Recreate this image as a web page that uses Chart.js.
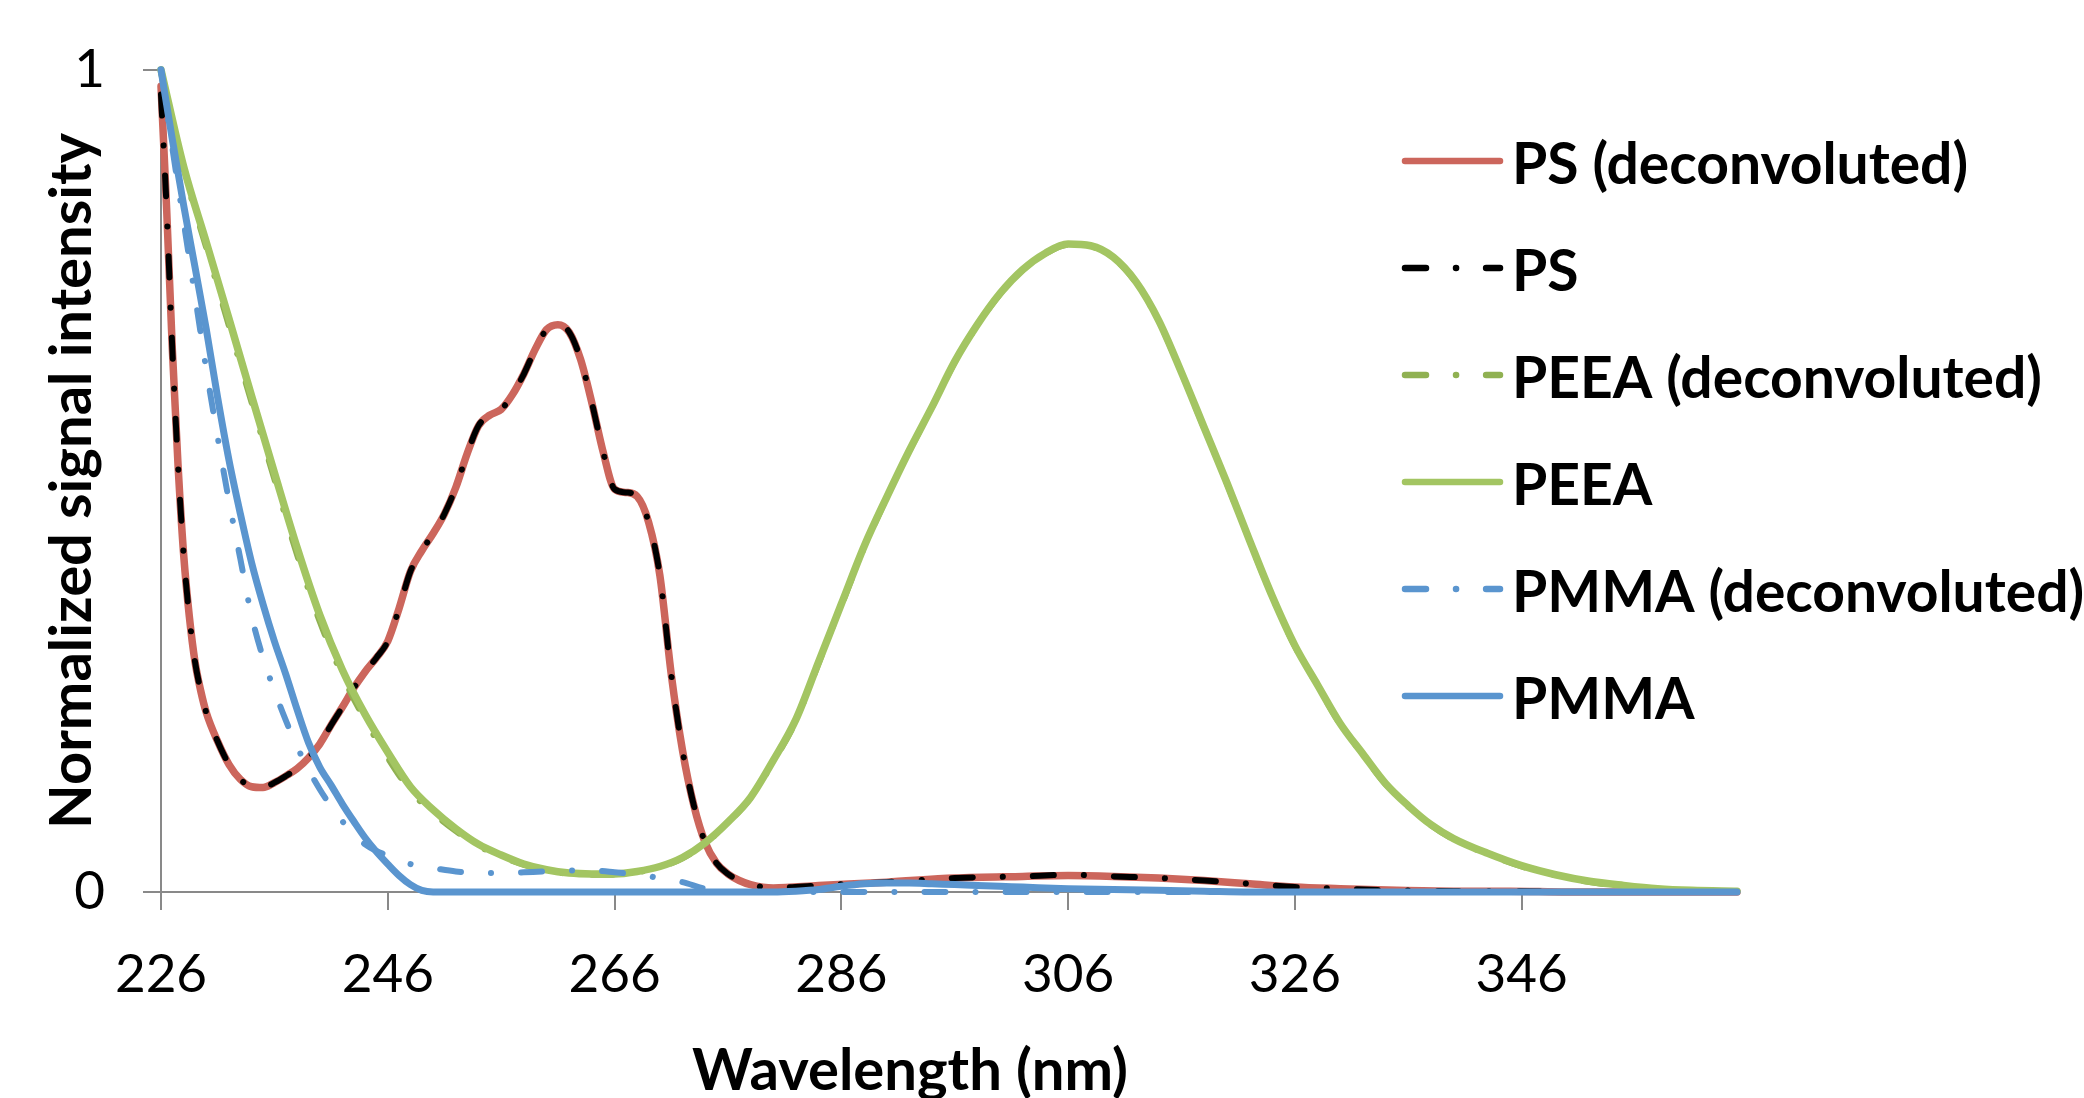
<!DOCTYPE html>
<html>
<head>
<meta charset="utf-8">
<title>Normalized signal intensity</title>
<script src="https://cdn.jsdelivr.net/npm/chart.js@4.4.0/dist/chart.umd.min.js"></script>
<style>
  html, body { margin: 0; padding: 0; background: #ffffff; }
  #wrap { width: 2084px; height: 1098px; position: relative; }
</style>
</head>
<body>
<div id="wrap"><canvas id="ShowChart"></canvas></div>
<script>
// tick labels of the wavelength axis
var xTicks = [226, 246, 266, 286, 306, 326, 346]

// PS spectra (nm / normalized intensity)
var psWl = [226, 226.5, 227, 227.5, 228, 228.5, 229, 229.5, 230,
  231, 232, 233, 234, 235, 236, 237, 238, 239, 240,
  241, 242, 243, 244, 245, 246, 247, 248, 249, 250,
  251, 252, 253, 254, 255, 256, 257, 258, 259, 260,
  261, 262, 263, 264, 265, 266, 267, 268, 269, 270,
  271, 272, 273, 274, 275, 276, 277, 278, 280, 284,
  290, 296, 302, 306, 310, 314, 318, 322, 326, 330,
  335, 340, 345, 350, 357, 365]
var psDeconv = [0.98, 0.83, 0.66, 0.52, 0.41, 0.335, 0.28, 0.245, 0.218,
  0.183, 0.155, 0.137, 0.128, 0.127, 0.133, 0.141, 0.150, 0.163, 0.18,
  0.203, 0.225, 0.248, 0.268, 0.285, 0.305, 0.345, 0.39, 0.415, 0.436,
  0.46, 0.492, 0.533, 0.567, 0.58, 0.587, 0.605, 0.63, 0.66, 0.684,
  0.69, 0.681, 0.648, 0.595, 0.535, 0.49, 0.486, 0.481, 0.45, 0.385,
  0.265, 0.172, 0.105, 0.06, 0.035, 0.022, 0.014, 0.009, 0.005, 0.008,
  0.012, 0.017, 0.019, 0.02, 0.019, 0.017, 0.014, 0.01, 0.006, 0.004,
  0.002, 0.001, 0.001, 0, 0, 0]
var psRaw = [0.97, 0.83, 0.66, 0.52, 0.41, 0.335, 0.28, 0.245, 0.218,
  0.183, 0.155, 0.137, 0.128, 0.127, 0.133, 0.141, 0.150, 0.163, 0.18,
  0.203, 0.225, 0.248, 0.268, 0.285, 0.305, 0.345, 0.39, 0.415, 0.436,
  0.46, 0.492, 0.533, 0.567, 0.58, 0.587, 0.605, 0.63, 0.66, 0.684,
  0.69, 0.681, 0.648, 0.595, 0.535, 0.49, 0.486, 0.481, 0.45, 0.385,
  0.265, 0.172, 0.105, 0.06, 0.035, 0.022, 0.014, 0.009, 0.005, 0.008,
  0.012, 0.017, 0.019, 0.021, 0.019, 0.017, 0.014, 0.01, 0.006, 0.004,
  0.002, 0.001, 0.001, 0, 0, 0]

// PEEA spectra
var peeaWl = [226, 228, 230, 232, 234, 236, 238, 240, 242, 244,
  246, 248, 250, 252, 254, 256, 258, 260, 262, 264,
  266, 268, 270, 272, 274, 276, 278, 280, 282, 284,
  286, 288, 290, 292, 294, 296, 298, 300, 302, 304,
  306, 308, 310, 312, 314, 316, 318, 320, 322, 324,
  326, 328, 330, 332, 334, 336, 338, 340,
  343, 346, 349, 352, 355, 358, 361, 365]
var peeaDeconv = [1.0, 0.878, 0.783, 0.688, 0.595, 0.502, 0.41, 0.329, 0.263, 0.209,
  0.163, 0.123, 0.096, 0.074, 0.056, 0.043, 0.033, 0.026, 0.022, 0.021,
  0.021, 0.024, 0.03, 0.041, 0.059, 0.084, 0.114, 0.158, 0.208, 0.278,
  0.348, 0.418, 0.479, 0.536, 0.589, 0.644, 0.689, 0.727, 0.756, 0.776,
  0.787, 0.785, 0.771, 0.741, 0.694, 0.631, 0.564, 0.497, 0.427, 0.359,
  0.299, 0.251, 0.204, 0.167, 0.131, 0.104, 0.081, 0.064,
  0.046, 0.031, 0.02, 0.012, 0.007, 0.003, 0.001, 0]
var peea = [1.0, 0.882, 0.79, 0.697, 0.603, 0.51, 0.419, 0.337, 0.27, 0.216,
  0.17, 0.128, 0.1, 0.077, 0.058, 0.045, 0.034, 0.027, 0.023, 0.022,
  0.022, 0.025, 0.031, 0.042, 0.06, 0.085, 0.115, 0.16, 0.21, 0.28,
  0.35, 0.42, 0.48, 0.537, 0.59, 0.645, 0.69, 0.728, 0.757, 0.777,
  0.788, 0.786, 0.772, 0.742, 0.695, 0.632, 0.565, 0.498, 0.428, 0.36,
  0.3, 0.252, 0.205, 0.168, 0.132, 0.105, 0.082, 0.065,
  0.047, 0.032, 0.021, 0.013, 0.008, 0.004, 0.002, 0.001]

// PMMA spectra
var pmmaWl = [226, 227, 228, 229, 230, 231, 232, 233, 234, 235,
  236, 237, 238, 239, 240, 241, 242, 243, 244, 245,
  246, 247, 248, 249, 250,
  252, 254, 256, 258, 260, 262, 264, 266, 268, 270, 272, 274, 276,
  278, 280, 282, 284, 286, 288, 290, 292, 294, 296, 298, 300, 302,
  306, 310, 314, 318, 322,
  330, 340, 350, 365]
var pmmaDeconv = [1.0, 0.905, 0.815, 0.725, 0.635, 0.553, 0.475, 0.405, 0.335, 0.285,
  0.245, 0.209, 0.177, 0.149, 0.125, 0.104, 0.086, 0.07, 0.058, 0.05,
  0.044, 0.038, 0.034, 0.031, 0.029,
  0.025, 0.023, 0.023, 0.024, 0.025, 0.026, 0.026, 0.024, 0.021, 0.017, 0.012, 0.004, 0,
  0, 0, 0, 0, 0, 0, 0, 0, 0, 0, 0, 0, 0,
  0, 0, 0, 0, 0,
  0, 0, 0, 0]
var pmma = [1.0, 0.915, 0.835, 0.76, 0.684, 0.601, 0.525, 0.46, 0.40, 0.35,
  0.305, 0.265, 0.222, 0.182, 0.152, 0.13, 0.107, 0.086, 0.066, 0.049,
  0.034, 0.02, 0.009, 0.002, 0,
  0, 0, 0, 0, 0, 0, 0, 0, 0, 0, 0, 0, 0,
  0, 0, 0.001, 0.003, 0.007, 0.01, 0.011, 0.011, 0.01, 0.009, 0.008, 0.007, 0.006,
  0.004, 0.003, 0.002, 0.001, 0,
  0, 0, 0, 0]

var Dash_Dot = [21, 30, 0.1, 30]

function Make_Points(wl, vals){
  var tmp = []
  for (var i = 0; i < wl.length; i++){
    tmp.push({x: wl[i], y: vals[i]})
  }
  return tmp
}

function Make_Set(label, wl, vals, color, dash, width, order){
  return {
    label: label,
    data: Make_Points(wl, vals),
    borderColor: color,
    backgroundColor: color,
    borderWidth: width,
    borderDash: dash,
    borderCapStyle: "round",
    borderJoinStyle: "round",
    pointRadius: 0,
    cubicInterpolationMode: "monotone",
    fill: false,
    clip: false,
    order: order
  }
}

var Dataset = [
  Make_Set("PS (deconvoluted)", psWl, psDeconv, "#CC665C", [], 7.5, 6),
  Make_Set("PS", psWl, psRaw, "#000000", Dash_Dot, 6, 5),
  Make_Set("PEEA (deconvoluted)", peeaWl, peeaDeconv, "#90B152", Dash_Dot, 6, 4),
  Make_Set("PEEA", peeaWl, peea, "#A3C562", [], 7.5, 3),
  Make_Set("PMMA (deconvoluted)", pmmaWl, pmmaDeconv, "#5A95CF", Dash_Dot, 6, 2),
  Make_Set("PMMA", pmmaWl, pmma, "#5A95CF", [], 7, 1)
]

// legend on the right side and the x title, drawn after the chart
var Side_Legend = {
  id: "sideLegend",
  afterDraw: function(chart){
    var ctx = chart.ctx
    var sets = chart.data.datasets
    ctx.save()
    ctx.font = "bold 57px Lato"
    ctx.textBaseline = "alphabetic"
    for (var i = 0; i < sets.length; i++){
      var y = 161 + i * 107
      ctx.beginPath()
      ctx.lineWidth = 6.5
      ctx.lineCap = "round"
      ctx.strokeStyle = sets[i].borderColor
      ctx.setLineDash(sets[i].borderDash)
      ctx.moveTo(1405, y)
      ctx.lineTo(1500, y)
      ctx.stroke()
      ctx.setLineDash([])
      ctx.fillStyle = "#000000"
      ctx.textAlign = "left"
      ctx.fillText(sets[i].label, 1512, y + 23)
    }
    ctx.font = "bold 58px Lato"
    ctx.textAlign = "center"
    ctx.fillText("Wavelength (nm)", 910, 1090)
    ctx.restore()
  }
}

var axisGrey = "#898989"
var ctx = document.getElementById("ShowChart").getContext("2d")
var ChartObject = new Chart(ctx, {
  type: "line",
  data: { datasets: Dataset },
  options: {
    responsive: true,
    maintainAspectRatio: false,
    devicePixelRatio: 1,
    animation: false,
    events: [],
    layout: { padding: { top: 61, right: 347, bottom: 0, left: 0 } },
    plugins: {
      legend: { display: false },
      tooltip: { enabled: false }
    },
    scales: {
      x: {
        type: "linear",
        min: 226,
        max: 365,
        afterBuildTicks: function(scale){
          scale.ticks = xTicks.map(function(v){ return {value: v} })
        },
        afterFit: function(scale){ scale.height = 206 },
        ticks: {
          padding: 33,
          color: "#000000",
          maxRotation: 0,
          autoSkip: false,
          font: { family: "Lato", size: 53 },
          callback: function(v){ return v }
        },
        grid: { drawOnChartArea: false, drawTicks: true, tickLength: 18, color: axisGrey, lineWidth: 2 },
        border: { color: axisGrey, width: 2 }
      },
      y: {
        min: 0,
        max: 1,
        afterFit: function(scale){ scale.width = 161 },
        ticks: {
          stepSize: 1,
          padding: 38,
          color: "#000000",
          font: { family: "Lato", size: 53 }
        },
        grid: { drawOnChartArea: false, drawTicks: true, tickLength: 18, color: axisGrey, lineWidth: 2 },
        border: { color: axisGrey, width: 2 },
        title: {
          display: true,
          text: "Normalized signal intensity",
          color: "#000000",
          font: { family: "Lato", size: 58, weight: "bold", lineHeight: 1 },
          padding: { top: 43, bottom: 0 }
        }
      }
    }
  },
  plugins: [Side_Legend]
})
</script>
</body>
</html>
